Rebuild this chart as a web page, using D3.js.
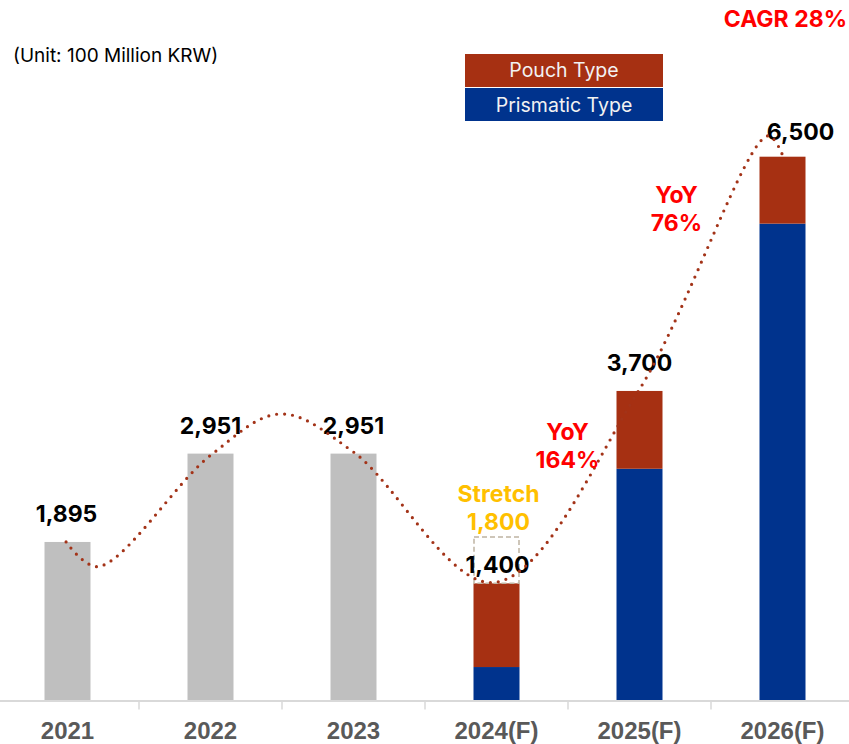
<!DOCTYPE html>
<html>
<head>
<meta charset="utf-8">
<script src="https://cdn.jsdelivr.net/npm/d3@7"></script>
<style>
  html, body { margin: 0; padding: 0; background: #fff; }
  #chart { width: 849px; height: 744px; }
</style>
</head>
<body>
<div id="chart"></div>
<script>
// ### DATA ###
const years = [ '2021', '2022', '2023', '2024(F)', '2025(F)', '2026(F)' ];
const totals = [ 1895, 2951, 2951, 1400, 3700, 6500 ];
const totalLabels = [ '1,895', '2,951', '2,951', '1,400', '3,700', '6,500' ];
//--- split only for forecast years (null = plain grey bar)
const prismatic = [ null, null, null, 400, 2770, 5700 ];
const pouch = [ null, null, null, 1000, 930, 800 ];
const seriesNames = [ 'Pouch Type', 'Prismatic Type' ];
const stretchValue = 1800;
const stretchLabel = [ 'Stretch', '1,800' ];
const yoyNotes = [ { idx: 4, lines: [ 'YoY', '164%' ] }, { idx: 4, lines: [ 'YoY', '76%' ] } ];
const cagrText = 'CAGR 28%';
const unitText = '(Unit: 100 Million KRW)';
//--- trend curve anchors: [category position, value]
const trendPts = [ [ -0.01, 1895 ], [ 0.21, 1600 ], [ 1.0, 2930 ], [ 1.49, 3425 ], [ 2.0, 2970 ],
  [ 2.98, 1410 ], [ 4.0, 3720 ], [ 4.9, 6750 ], [ 5.0, 6520 ] ];

// ### STYLE ###
const W = 849, H = 744;
const grey = '#bfbfbf';
const pouchColor = '#a63012';
const prisColor = '#00338d';
const red = '#ff0000';
const gold = '#ffc000';
const valueFont = 'Inter, "Noto Sans", sans-serif';
const boldSize = '23px';

const svg = d3.select( '#chart' ).append( 'svg' )
  .attr( 'width', W ).attr( 'height', H );

// ### SCALES ###
const x = d3.scaleBand().domain( years ).range( [ -4, 854 ] );
const cx = i => x( years[ i ] ) + x.bandwidth() / 2;
const xPos = d3.scaleLinear().domain( [ 0, 1 ] ).range( [ cx( 0 ), cx( 1 ) ] );
const y = d3.scaleLinear().domain( [ 0, 6500 ] ).range( [ 700.5, 156.7 ] );
const barW = 46;

// ### BARS ###
years.forEach( ( yr, i ) => {
  const bx = cx( i ) - barW / 2;
  if ( prismatic[ i ] === null ) {
    svg.append( 'rect' ).attr( 'x', bx ).attr( 'width', barW )
      .attr( 'y', y( totals[ i ] ) ).attr( 'height', y( 0 ) - y( totals[ i ] ) )
      .attr( 'fill', grey );
  } else {
    svg.append( 'rect' ).attr( 'x', bx ).attr( 'width', barW )
      .attr( 'y', y( prismatic[ i ] ) ).attr( 'height', y( 0 ) - y( prismatic[ i ] ) )
      .attr( 'fill', prisColor );
    const top = prismatic[ i ] + pouch[ i ];
    svg.append( 'rect' ).attr( 'x', bx ).attr( 'width', barW )
      .attr( 'y', y( top ) ).attr( 'height', y( prismatic[ i ] ) - y( top ) )
      .attr( 'fill', pouchColor );
  }
} );

// ### AXIS ###
svg.append( 'line' ).attr( 'x1', 0 ).attr( 'x2', W )
  .attr( 'y1', y( 0 ) + 0.5 ).attr( 'y2', y( 0 ) + 0.5 )
  .attr( 'stroke', '#d9d9d9' ).attr( 'stroke-width', 2 );
years.slice( 1 ).forEach( yr => {
  svg.append( 'line' ).attr( 'x1', x( yr ) ).attr( 'x2', x( yr ) )
    .attr( 'y1', y( 0 ) ).attr( 'y2', y( 0 ) + 9 )
    .attr( 'stroke', '#d9d9d9' ).attr( 'stroke-width', 1.5 );
} );
const xAxis = svg.append( 'g' ).attr( 'transform', `translate(0, ${ y( 0 ) })` )
  .call( d3.axisBottom( x ).tickSize( 0 ).tickPadding( 0 ) );
xAxis.select( '.domain' ).remove();
xAxis.selectAll( 'text' )
  .attr( 'y', 38 ).attr( 'dy', 0 )
  .style( 'font-family', '"Liberation Sans", Arial, sans-serif' )
  .style( 'font-size', '24px' ).style( 'font-weight', 'bold' )
  .style( 'fill', '#595959' );

// ### STRETCH BOX ###
const si = 3;
svg.append( 'rect' )
  .attr( 'x', cx( si ) - barW / 2 + 0.5 ).attr( 'width', barW - 1 )
  .attr( 'y', y( stretchValue ) - 13 ).attr( 'height', y( totals[ si ] ) - y( stretchValue ) + 13 )
  .attr( 'fill', 'none' ).attr( 'stroke', '#bfb4a2' )
  .attr( 'stroke-width', 1.5 ).attr( 'stroke-dasharray', '5 3' );

// ### VALUE LABELS ###
const labelGap = [ 20, 20, 20, 10, 20, 17 ];
const labelShift = [ -1, 0, 0, 1, 0, 18 ];
totals.forEach( ( v, i ) => {
  svg.append( 'text' )
    .attr( 'x', cx( i ) + labelShift[ i ] ).attr( 'y', y( v ) - labelGap[ i ] )
    .attr( 'text-anchor', 'middle' )
    .style( 'font-family', valueFont ).style( 'font-weight', 'bold' )
    .style( 'font-size', boldSize ).style( 'fill', '#000' )
    .text( totalLabels[ i ] );
} );

// ### TREND CURVE ###
const line = d3.line()
  .x( d => xPos( d[ 0 ] ) )
  .y( d => y( d[ 1 ] ) )
  .curve( d3.curveCatmullRom.alpha( 0.5 ) );
svg.append( 'path' ).datum( trendPts )
  .attr( 'd', line )
  .attr( 'fill', 'none' ).attr( 'stroke', '#a33318' )
  .attr( 'stroke-width', 3.2 ).attr( 'stroke-linecap', 'round' )
  .attr( 'stroke-dasharray', '0 8' );

// ### STRETCH LABEL ###
stretchLabel.forEach( ( t, k ) => {
  svg.append( 'text' )
    .attr( 'x', cx( si ) + 2 ).attr( 'y', 502 + k * 28 )
    .attr( 'text-anchor', 'middle' )
    .style( 'font-family', valueFont ).style( 'font-weight', 'bold' )
    .style( 'font-size', boldSize ).style( 'fill', gold )
    .text( t );
} );

// ### YOY NOTES ###
const yoyPos = [ { dx: -72, top: 440 }, { dx: 37, top: 203 } ];
yoyNotes.forEach( ( n, j ) => {
  n.lines.forEach( ( t, k ) => {
    svg.append( 'text' )
      .attr( 'x', cx( n.idx ) + yoyPos[ j ].dx ).attr( 'y', yoyPos[ j ].top + k * 28 )
      .attr( 'text-anchor', 'middle' )
      .style( 'font-family', valueFont ).style( 'font-weight', 'bold' )
      .style( 'font-size', boldSize ).style( 'fill', red )
      .text( t );
  } );
} );

// ### CAGR ###
svg.append( 'text' )
  .attr( 'x', 847 ).attr( 'y', 27 ).attr( 'text-anchor', 'end' )
  .style( 'font-family', valueFont ).style( 'font-weight', 'bold' )
  .style( 'font-size', boldSize ).style( 'fill', red )
  .text( cagrText );

// ### UNIT ###
svg.append( 'text' )
  .attr( 'x', 13 ).attr( 'y', 62 )
  .style( 'font-family', valueFont )
  .style( 'font-size', '19px' ).style( 'fill', '#000' )
  .text( unitText );

// ### LEGEND ###
const legend = svg.append( 'g' ).attr( 'transform', 'translate(465, 54)' );
const legendColors = [ pouchColor, prisColor ];
seriesNames.forEach( ( s, k ) => {
  const g = legend.append( 'g' ).attr( 'transform', `translate(0, ${ k * 34 })` );
  g.append( 'rect' ).attr( 'width', 198 ).attr( 'height', 33 ).attr( 'fill', legendColors[ k ] );
  g.append( 'text' ).attr( 'x', 99 ).attr( 'y', 23 + k )
    .attr( 'text-anchor', 'middle' )
    .style( 'font-family', valueFont )
    .style( 'font-size', '19.5px' ).style( 'fill', '#f2f2f2' )
    .text( s );
} );
</script>
</body>
</html>
